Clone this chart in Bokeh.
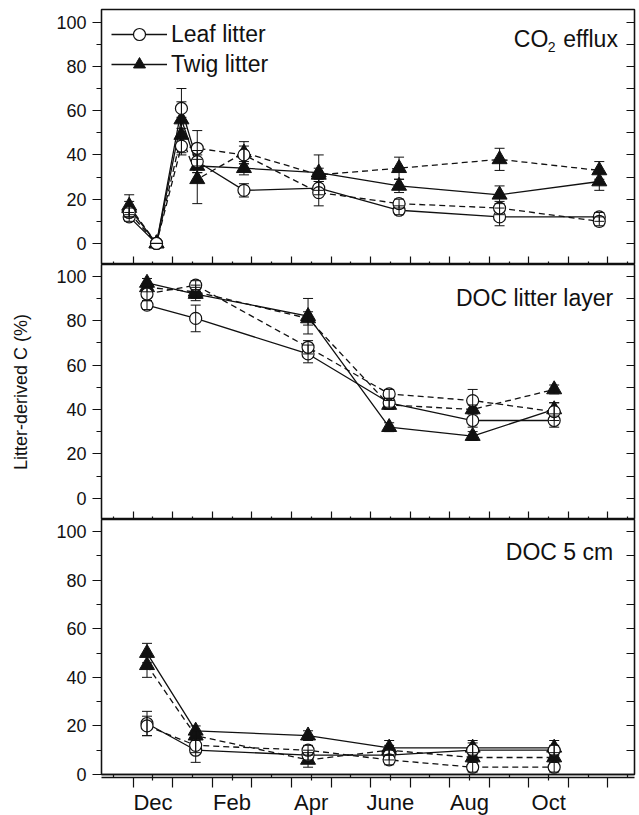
from bokeh.plotting import figure
from bokeh.models import (Range1d, FixedTicker, LinearAxis, Whisker, ColumnDataSource,
                          Legend, LegendItem, Label, TeeHead)
from bokeh.layouts import column
from bokeh.embed import file_html
from bokeh.resources import INLINE

FONT = "Liberation Sans"
INK = "#111111"

# ---- x axis (months since 1 Dec) ----
month_bounds = list(range(0, 13))
mid_months = [m + 0.5 for m in range(-1, 13)]
label_positions = [0.5, 2.5, 4.5, 6.5, 8.5, 10.5]
month_labels = ["Dec", "Feb", "Apr", "June", "Aug", "Oct"]

y_major = [0, 20, 40, 60, 80, 100]
y_minor = [10, 30, 50, 70, 90]
y_all = [0, 10, 20, 30, 40, 50, 60, 70, 80, 90, 100]

# ---- CO2 efflux panel ----
x_co2 = [-0.10, 0.59, 1.22, 1.62, 2.80, 4.69, 6.72, 9.26, 11.78]
co2_leaf_solid = [12, 0, 61, 37, 24, 25, 15, 12, 12]
co2_leaf_solid_err = [2, 0, 9, 5, 3, 3, 2, 4, 2]
co2_leaf_dashed = [14, 0, 44, 43, 40, 23, 18, 16, 10]
co2_leaf_dashed_err = [2, 0, 4, 8, 4, 6, 2, 3, 2]
co2_twig_solid = [16, 0, 56, 35, 34, 32, 26, 22, 28]
co2_twig_solid_err = [3, 0, 8, 3, 3, 8, 3, 4, 4]
co2_twig_dashed = [17, 0, 49, 29, 41, 31, 34, 38, 33]
co2_twig_dashed_err = [5, 0, 8, 11, 5, 3, 5, 5, 4]

# ---- DOC litter layer panel ----
x_doc = [0.35, 1.58, 4.42, 6.47, 8.58, 10.64]
lit_leaf_solid = [87, 81, 65, 43, 35, 35]
lit_leaf_solid_err = [2, 6, 4, 2, 3, 3]
lit_leaf_dashed = [92, 96, 68, 47, 44, 39]
lit_leaf_dashed_err = [3, 2, 3, 2, 5, 4]
lit_twig_solid = [97, 92, 82, 32, 28, 40]
lit_twig_solid_err = [2, 3, 8, 2, 2, 3]
lit_twig_dashed = [95, 93, 81, 42, 40, 49]
lit_twig_dashed_err = [2, 3, 3, 2, 2, 2]

# ---- DOC 5 cm panel ----
cm5_leaf_solid = [21, 10, 8, 8, 10, 10]
cm5_leaf_solid_err = [5, 5, 2, 2, 3, 2]
cm5_leaf_dashed = [20, 12, 10, 6, 3, 3]
cm5_leaf_dashed_err = [4, 3, 2, 2, 2, 2]
cm5_twig_solid = [50, 18, 16, 11, 11, 11]
cm5_twig_solid_err = [4, 2, 2, 3, 3, 3]
cm5_twig_dashed = [45, 16, 6, 10, 7, 7]
cm5_twig_dashed_err = [5, 2, 3, 2, 2, 2]

x_range = Range1d(-0.8, 12.67)


def tick_axis(ticks, tick_in, tick_out):
    """An axis that only draws (minor) ticks, with no labels at all."""
    return LinearAxis(ticker=FixedTicker(ticks=[], minor_ticks=ticks),
                      major_tick_in=0, major_tick_out=0,
                      minor_tick_in=tick_in, minor_tick_out=tick_out,
                      major_label_standoff=0,
                      axis_line_color=INK, axis_line_width=1.3,
                      minor_tick_line_color=INK, minor_tick_line_width=1.2)


def make_fig(y_start, y_end, top_border, bottom_border):
    p = figure(frame_width=533, frame_height=255, x_range=x_range,
               y_range=Range1d(y_start, y_end), output_backend="svg",
               toolbar_location=None, min_border_left=101, min_border_right=4,
               min_border_top=top_border, min_border_bottom=bottom_border,
               background_fill_color="white", border_fill_color="white",
               x_axis_location=None, y_axis_location=None)
    p.grid.visible = False
    p.outline_line_color = INK
    p.outline_line_width = 1.3
    # left axis
    ya = LinearAxis(ticker=FixedTicker(ticks=y_major, minor_ticks=y_minor),
                    major_tick_out=9, major_tick_in=0, minor_tick_out=5, minor_tick_in=0,
                    major_label_text_font=FONT, major_label_text_font_size="18px",
                    major_label_text_color=INK, major_label_standoff=6,
                    axis_line_color=INK, axis_line_width=1.3,
                    major_tick_line_color=INK, minor_tick_line_color=INK,
                    major_tick_line_width=1.2, minor_tick_line_width=1.2)
    p.add_layout(ya, "left")
    # right axis (ticks only)
    p.add_layout(tick_axis(y_all, 8, 0), "right")
    return p, ya


def add_series(p, xs, ys, errs, kind, dash, store):
    src = ColumnDataSource(dict(x=xs, y=ys,
                                upper=[v + e for v, e in zip(ys, errs)],
                                lower=[v - e for v, e in zip(ys, errs)]))
    lr = p.line("x", "y", source=src, line_color=INK, line_width=1.3, line_dash=dash)
    store.append((src, kind, lr))


def finish_panel(p, store):
    renderers = {}
    for kind in ("triangle", "circle"):
        for src, k, lr in store:
            if k != kind:
                continue
            if kind == "triangle":
                r = p.scatter("x", "y", source=src, marker="triangle", size=15,
                              fill_color=INK, line_color=INK, line_width=1.0)
            else:
                r = p.scatter("x", "y", source=src, marker="circle", size=12,
                              fill_color="white", line_color=INK, line_width=1.2)
            renderers.setdefault(kind, (lr, r))
    for src, k, lr in store:
        w = Whisker(source=src, base="x", upper="upper", lower="lower",
                    dimension="height", line_color=INK, line_width=1.0,
                    upper_head=TeeHead(size=10, line_color=INK, line_width=1.0),
                    lower_head=TeeHead(size=10, line_color=INK, line_width=1.0),
                    level="overlay")
        p.add_layout(w)
    return renderers


# ---------- panel 1 ----------
p1, ya1 = make_fig(-9.5, 105.7, 9, 0)
p1.add_layout(tick_axis(month_bounds, 8, 0), "below")
p1.add_layout(tick_axis(mid_months, 3, 0), "below")
s1 = []
add_series(p1, x_co2, co2_leaf_solid, co2_leaf_solid_err, "circle", "solid", s1)
add_series(p1, x_co2, co2_leaf_dashed, co2_leaf_dashed_err, "circle", "6 4", s1)
add_series(p1, x_co2, co2_twig_solid, co2_twig_solid_err, "triangle", "solid", s1)
add_series(p1, x_co2, co2_twig_dashed, co2_twig_dashed_err, "triangle", "6 4", s1)
r1 = finish_panel(p1, s1)

legend = Legend(items=[LegendItem(label="Leaf litter", renderers=list(r1["circle"])),
                       LegendItem(label="Twig litter", renderers=list(r1["triangle"]))],
                location="top_left", margin=3, padding=7, spacing=0,
                glyph_width=56, glyph_height=30, label_height=30, label_standoff=4,
                label_text_font=FONT, label_text_font_size="23px", label_text_color=INK,
                border_line_alpha=0, background_fill_alpha=0)
p1.add_layout(legend)

p1.add_layout(Label(x=9.62, y=92.5, text="CO", text_font=FONT, text_font_size="23px",
                    text_color=INK, text_align="left", text_baseline="alphabetic"))
p1.add_layout(Label(x=10.48, y=88.8, text="2", text_font=FONT, text_font_size="14px",
                    text_color=INK, text_align="left", text_baseline="alphabetic"))
p1.add_layout(Label(x=12.25, y=92.5, text="efflux", text_font=FONT, text_font_size="23px",
                    text_color=INK, text_align="right", text_baseline="alphabetic"))

# ---------- panel 2 ----------
p2, ya2 = make_fig(-9.6, 105.3, 0, 0)
p2.add_layout(tick_axis(month_bounds, 8, 0), "below")
p2.add_layout(tick_axis(mid_months, 3, 0), "below")
s2 = []
add_series(p2, x_doc, lit_leaf_solid, lit_leaf_solid_err, "circle", "solid", s2)
add_series(p2, x_doc, lit_leaf_dashed, lit_leaf_dashed_err, "circle", "6 4", s2)
add_series(p2, x_doc, lit_twig_solid, lit_twig_solid_err, "triangle", "solid", s2)
add_series(p2, x_doc, lit_twig_dashed, lit_twig_dashed_err, "triangle", "6 4", s2)
finish_panel(p2, s2)
ya2.axis_label = "Litter-derived C (%)"
ya2.axis_label_text_font = FONT
ya2.axis_label_text_font_size = "18px"
ya2.axis_label_text_font_style = "normal"
ya2.axis_label_text_color = INK
ya2.axis_label_standoff = 22
p2.add_layout(Label(x=12.13, y=90.4, text="DOC litter layer", text_font=FONT,
                    text_font_size="23px", text_color=INK, text_align="right",
                    text_baseline="alphabetic"))

# ---------- panel 3 ----------
p3, ya3 = make_fig(0, 105, 0, 40)
p3.add_layout(tick_axis(mid_months, 0, 3), "below")
xa3 = LinearAxis(ticker=FixedTicker(ticks=label_positions, minor_ticks=month_bounds),
                 major_tick_in=0, major_tick_out=3, minor_tick_in=0, minor_tick_out=10,
                 major_label_text_font=FONT, major_label_text_font_size="22px",
                 major_label_text_color=INK, major_label_standoff=2,
                 major_label_overrides={pos: lab for pos, lab in zip(label_positions, month_labels)},
                 axis_line_color=INK, axis_line_width=1.3,
                 major_tick_line_color=INK, minor_tick_line_color=INK,
                 major_tick_line_width=1.2, minor_tick_line_width=1.2)
p3.add_layout(xa3, "below")
s3 = []
add_series(p3, x_doc, cm5_leaf_solid, cm5_leaf_solid_err, "circle", "solid", s3)
add_series(p3, x_doc, cm5_leaf_dashed, cm5_leaf_dashed_err, "circle", "6 4", s3)
add_series(p3, x_doc, cm5_twig_solid, cm5_twig_solid_err, "triangle", "solid", s3)
add_series(p3, x_doc, cm5_twig_dashed, cm5_twig_dashed_err, "triangle", "6 4", s3)
finish_panel(p3, s3)
p3.add_layout(Label(x=12.13, y=91.5, text="DOC 5 cm", text_font=FONT,
                    text_font_size="23px", text_color=INK, text_align="right",
                    text_baseline="alphabetic"))

layout = column(p1, p2, p3, spacing=0)
open("out.html", "w").write(file_html(layout, INLINE))
